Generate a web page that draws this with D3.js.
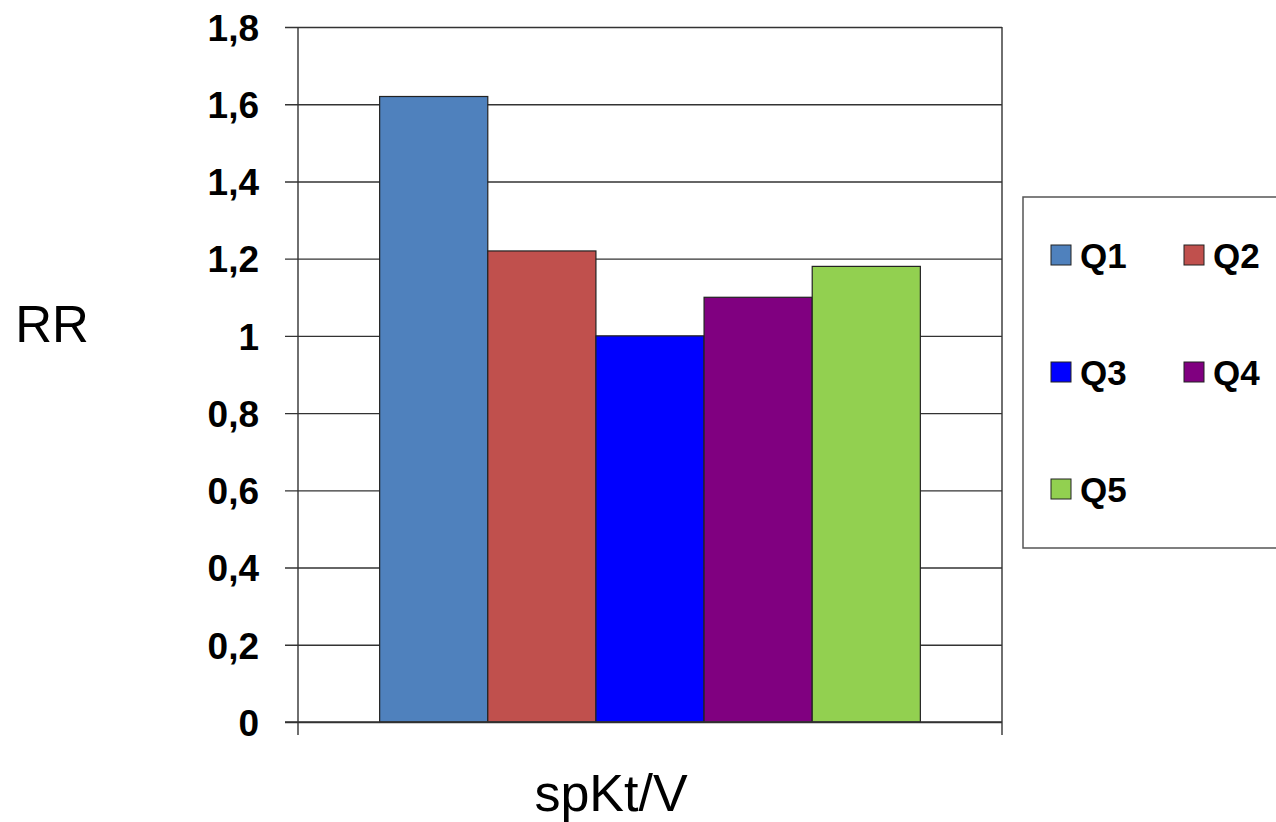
<!DOCTYPE html>
<html>
<head>
<meta charset="utf-8">
<script src="https://cdn.jsdelivr.net/npm/d3@7"></script>
<style>
  html, body { margin: 0; padding: 0; background: #fff; overflow: hidden; }
  svg { display: block; font-family: "Liberation Sans", Arial, sans-serif; }
</style>
</head>
<body>
<svg id="chart" width="1276" height="822"></svg>
<script>
// Relative risk by spKt/V quintile
const categories = ["spKt/V"];
const seriesNames = ["Q1", "Q2", "Q3", "Q4", "Q5"];
const seriesValues = [1.62, 1.22, 1.00, 1.10, 1.18];
const seriesColors = ["#4F81BD", "#C0504D", "#0000FF", "#800080", "#92D050"];
const yTicks = [0, 0.2, 0.4, 0.6, 0.8, 1, 1.2, 1.4, 1.6, 1.8];
const yTickLabels = ["0", "0,2", "0,4", "0,6", "0,8", "1", "1,2", "1,4", "1,6", "1,8"];

const svg = d3.select("#chart");
const plot = { left: 298, right: 1002, top: 27, bottom: 722 };

const y = d3.scaleLinear().domain([0, 1.8]).range([plot.bottom, plot.top]);
const x0 = d3.scaleBand().domain(categories).range([plot.left, plot.right]).paddingInner(0).paddingOuter(0.151);
const x1 = d3.scaleBand().domain(seriesNames).range([0, x0.bandwidth()]).padding(0);

// horizontal gridlines with left tick stubs
const yAxis = d3.axisLeft(y)
  .tickValues(yTicks)
  .tickFormat((d, i) => yTickLabels[i])
  .tickSize(-(plot.right - plot.left))
  .tickSizeOuter(0)
  .tickPadding(39);

const gy = svg.append("g")
  .attr("transform", `translate(${plot.left},0)`)
  .call(yAxis);
gy.select(".domain").remove();
gy.selectAll(".tick line")
  .attr("x1", -13)
  .attr("stroke", "#333")
  .attr("stroke-width", 1.4);
gy.selectAll(".tick text")
  .attr("font-size", 37)
  .attr("font-weight", "bold")
  .attr("fill", "#000")
  .attr("dy", "0.36em");

// plot frame verticals
svg.append("line")
  .attr("x1", plot.left).attr("x2", plot.left)
  .attr("y1", plot.top).attr("y2", plot.bottom + 13)
  .attr("stroke", "#333").attr("stroke-width", 1.4);
svg.append("line")
  .attr("x1", plot.right).attr("x2", plot.right)
  .attr("y1", plot.top).attr("y2", plot.bottom + 13)
  .attr("stroke", "#333").attr("stroke-width", 1.4);

// bars
const groups = svg.append("g")
  .selectAll("g")
  .data(categories)
  .join("g")
  .attr("transform", d => `translate(${x0(d)},0)`);

groups.selectAll("rect")
  .data(seriesNames.map((s, i) => ({ s, v: seriesValues[i], c: seriesColors[i] })))
  .join("rect")
  .attr("x", d => x1(d.s))
  .attr("width", x1.bandwidth())
  .attr("y", d => y(d.v))
  .attr("height", d => y(0) - y(d.v))
  .attr("fill", d => d.c)
  .attr("stroke", "#222")
  .attr("stroke-width", 1.2);

// baseline on top of bars
svg.append("line")
  .attr("x1", plot.left - 13).attr("x2", plot.right)
  .attr("y1", y(0)).attr("y2", y(0))
  .attr("stroke", "#333").attr("stroke-width", 1.4);

// axis titles
svg.append("text")
  .attr("x", 52).attr("y", 342)
  .attr("text-anchor", "middle")
  .attr("font-size", 51)
  .attr("fill", "#000")
  .text("RR");

svg.append("text")
  .attr("x", 611).attr("y", 811)
  .attr("text-anchor", "middle")
  .attr("font-size", 52)
  .attr("fill", "#000")
  .text("spKt/V");

// legend
const legend = svg.append("g").attr("transform", "translate(1023,197)");
legend.append("rect")
  .attr("x", 0).attr("y", 0)
  .attr("width", 280).attr("height", 351)
  .attr("fill", "#fff")
  .attr("stroke", "#555")
  .attr("stroke-width", 1.5);

const items = legend.selectAll("g.item")
  .data(seriesNames.map((s, i) => ({ s, c: seriesColors[i], col: i % 2, row: Math.floor(i / 2) })))
  .join("g")
  .attr("class", "item")
  .attr("transform", d => `translate(${28 + d.col * 133},${48 + d.row * 117})`);

items.append("rect")
  .attr("width", 20).attr("height", 20)
  .attr("fill", d => d.c)
  .attr("stroke", "#222")
  .attr("stroke-width", 1);

items.append("text")
  .attr("x", 29).attr("y", 10)
  .attr("dy", "0.36em")
  .attr("font-size", 35)
  .attr("font-weight", "bold")
  .attr("fill", "#000")
  .text(d => d.s);
</script>
</body>
</html>
